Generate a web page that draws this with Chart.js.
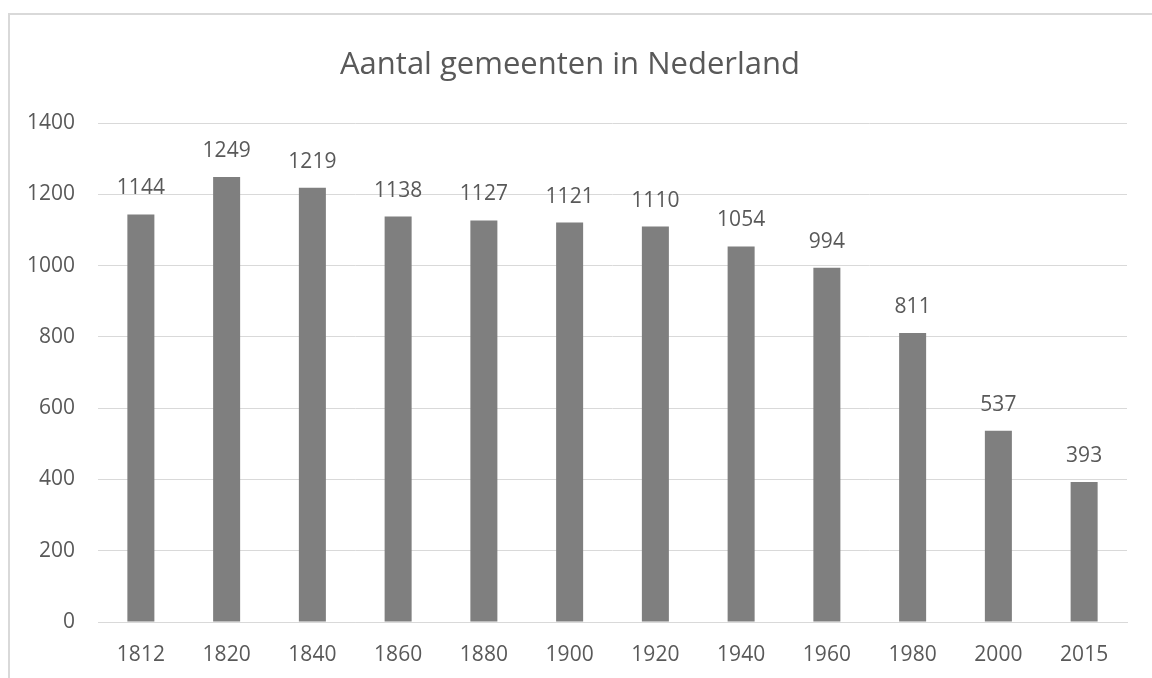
<!DOCTYPE html>
<html>
<head>
<meta charset="utf-8">
<script src="https://cdn.jsdelivr.net/npm/chart.js@4/dist/chart.umd.min.js"></script>
<style>
  html, body { margin: 0; padding: 0; background: #fff; }
  #wrap { position: relative; width: 1152px; height: 678px; overflow: hidden; }
  #frame { position: absolute; left: 8px; top: 13px; width: 1200px; height: 700px;
           border-left: 2px solid #d9d9d9; border-top: 2px solid #d9d9d9; box-sizing: border-box; }
  canvas { position: absolute; left: 0; top: 0; }
</style>
</head>
<body>
<div id="wrap">
  <div id="frame"></div>
  <canvas id="c" width="1152" height="678"></canvas>
</div>
<script>
const titleText = "Aantal gemeenten in Nederland";
const years = ["1812","1820","1840","1860","1880","1900","1920","1940","1960","1980","2000","2015"];
const gemeenten = [1144,1249,1219,1138,1127,1121,1110,1054,994,811,537,393];
const yMin = 0, yMax = 1400, yStep = 200;

const FONT = "'Open Sans', 'Liberation Sans', sans-serif";
const TXT = "#595959";

const labelPlugin = {
  id: 'barLabels',
  afterDatasetsDraw(chart) {
    const ctx = chart.ctx;
    const meta = chart.getDatasetMeta(0);
    ctx.save();
    ctx.font = "21px " + FONT;
    ctx.fillStyle = TXT;
    ctx.textAlign = 'center';
    ctx.textBaseline = 'alphabetic';
    meta.data.forEach((bar, i) => {
      ctx.fillText(String(chart.data.datasets[0].data[i]), bar.x, bar.y - 20);
    });
    ctx.restore();
  }
};

new Chart(document.getElementById('c'), {
  type: 'bar',
  data: {
    labels: years,
    datasets: [{
      data: gemeenten,
      backgroundColor: '#7f7f7f',
      borderWidth: 0,
      categoryPercentage: 1,
      barPercentage: 0.315
    }]
  },
  options: {
    responsive: false,
    animation: false,
    devicePixelRatio: 1,
    layout: { padding: { left: 13, right: 25, top: 0, bottom: 0 } },
    plugins: {
      legend: { display: false },
      tooltip: { enabled: false },
      title: {
        display: true,
        text: titleText,
        color: TXT,
        font: { family: FONT, size: 31, weight: 'normal', lineHeight: 1.2 },
        padding: { top: 47, bottom: 39 }
      }
    },
    scales: {
      x: {
        grid: { display: false },
        border: { display: true, color: '#d9d9d9', width: 1 },
        ticks: { color: TXT, font: { family: FONT, size: 21 }, padding: 12 },
        afterFit(s) { s.height = 56; }
      },
      y: {
        min: yMin, max: yMax,
        grid: { color: '#d9d9d9', lineWidth: 1, drawTicks: false },
        border: { display: false },
        ticks: { stepSize: yStep, color: TXT, font: { family: FONT, size: 21 }, padding: 23,
                 callback: (v) => String(v) },
        afterFit(s) { s.width = 85; }
      }
    }
  },
  plugins: [labelPlugin]
});
</script>
</body>
</html>
